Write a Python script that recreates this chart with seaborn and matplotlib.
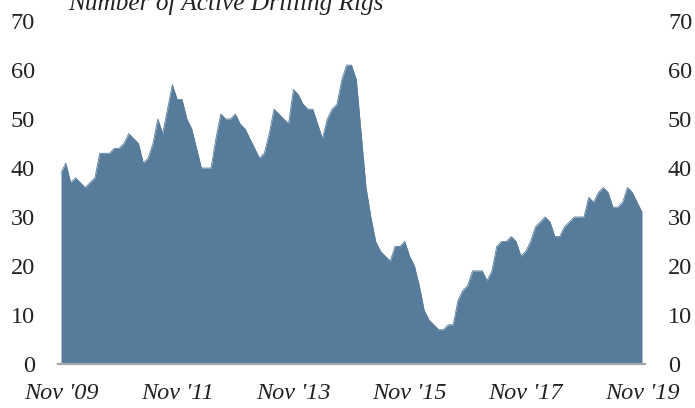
import numpy as np
import pandas as pd
import matplotlib
matplotlib.use("Agg")
import matplotlib.pyplot as plt
import seaborn as sns

# Monthly count of active drilling rigs, Nov 2009 - Nov 2019
rigs = [39, 41, 37, 38, 37, 36, 37, 38, 43, 43,
        43, 44, 44, 45, 47, 46, 45, 41, 42, 45,
        50, 47, 52, 57, 54, 54, 50, 48, 44, 40,
        40, 40, 46, 51, 50, 50, 51, 49, 48, 46,
        44, 42, 43, 47, 52, 51, 50, 49, 56, 55,
        53, 52, 52, 49, 46, 50, 52, 53, 58, 61,
        61, 58, 47, 36, 30, 25, 23, 22, 21, 24,
        24, 25, 22, 20, 16, 11, 9, 8, 7, 7,
        8, 8, 13, 15, 16, 19, 19, 19, 17, 19,
        24, 25, 25, 26, 25, 22, 23, 25, 28, 29,
        30, 29, 26, 26, 28, 29, 30, 30, 30, 34,
        33, 35, 36, 35, 32, 32, 33, 36, 35, 33, 31]
months = pd.date_range("2009-11-01", periods=len(rigs), freq="MS")
tick_labels = ["Nov '09", "Nov '11", "Nov '13", "Nov '15", "Nov '17", "Nov '19"]
y_ticks = [0, 10, 20, 30, 40, 50, 60, 70]

df = pd.DataFrame({"month": months, "rigs": rigs})
df["idx"] = np.arange(len(df))

sns.set_theme(style="white")
plt.rcParams["font.family"] = ["Liberation Serif", "DejaVu Serif"]

fill_color = "#567b9b"

fig = plt.figure(figsize=(6.95, 4.08), dpi=100)
W, H = 695, 408
ax = fig.add_axes([58 / W, (H - 364) / H, 587 / W, 343 / H])

sns.lineplot(data=df, x="idx", y="rigs", ax=ax, color=fill_color, linewidth=0.6)
ax.fill_between(df["idx"], 0, df["rigs"], color=fill_color, linewidth=0)

ax.set_xlim(-0.62, len(rigs) - 1 + 0.62)
ax.set_ylim(0, 70)
ax.set_xlabel("")
ax.set_ylabel("")

ax.set_yticks(y_ticks)
ax.set_yticklabels([str(v) for v in y_ticks])
ax.set_xticks(df["idx"][::24])
ax.set_xticklabels(tick_labels, style="italic")

ax.tick_params(axis="y", length=0, pad=16.5, labelsize=17.5, labelcolor="#222222",
               labelleft=True, labelright=True)
ax.tick_params(axis="x", length=0, pad=14, labelsize=17.5, labelcolor="#222222")

for side in ["top", "left", "right"]:
    ax.spines[side].set_visible(False)
ax.spines["bottom"].set_color("#a6a6a6")
ax.spines["bottom"].set_linewidth(1.6)
ax.spines["bottom"].set_zorder(5)

fig.text(68 / W, 1 - 10 / H, "Number of Active Drilling Rigs", style="italic",
         fontsize=18.2, color="#222222", ha="left", va="baseline")

fig.savefig("out.png", dpi=100)
